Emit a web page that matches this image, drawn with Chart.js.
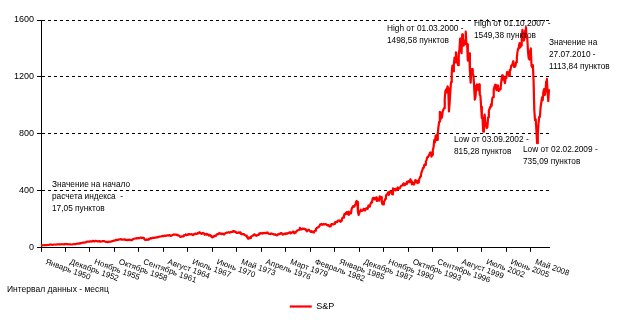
<!DOCTYPE html>
<html>
<head>
<meta charset="utf-8">
<script src="https://cdn.jsdelivr.net/npm/chart.js@4.4.0/dist/chart.umd.min.js"></script>
<style>
  html, body { margin: 0; padding: 0; background: #ffffff; }
  canvas { display: block; }
</style>
</head>
<body>
<canvas id="chart" width="624" height="323"></canvas>
<script>
// S&P 500 monthly closing values, January 1950 – July 2010
const monthNames = ['Январь', 'Февраль', 'Март', 'Апрель', 'Май', 'Июнь',
                    'Июль', 'Август', 'Сентябрь', 'Октябрь', 'Ноябрь', 'Декабрь'];
const firstYear = 1950;
const labelStep = 35;          // one axis label every 35 months
const yTickValues = [0, 400, 800, 1200, 1600];
const seriesName = 'S&P';
const axisCaption = 'Интервал данных - месяц';

const sp500 = [
  17.05, 17.22, 17.29, 17.96, 18.78, 17.69, 17.84, 18.42, 19.45, 19.53, 19.51, 20.41,
  21.66, 21.80, 21.40, 22.43, 21.52, 20.96, 22.40, 23.28, 23.26, 22.94, 22.88, 23.77,
  24.14, 23.26, 24.37, 23.32, 23.86, 24.96, 25.40, 25.03, 24.54, 24.52, 25.66, 26.57,
  26.38, 25.90, 25.29, 24.62, 24.54, 24.14, 24.75, 23.32, 23.35, 24.54, 24.76, 24.81,
  26.08, 26.15, 26.94, 28.26, 29.19, 29.21, 30.88, 29.83, 32.31, 31.68, 34.24, 35.98,
  36.63, 36.76, 36.58, 37.96, 37.91, 41.03, 43.52, 43.18, 43.67, 42.34, 45.51, 45.48,
  43.82, 45.34, 48.48, 48.38, 45.20, 46.97, 49.39, 47.51, 45.35, 45.58, 45.08, 46.67,
  44.72, 43.26, 44.11, 45.74, 47.43, 47.37, 47.91, 45.22, 42.42, 41.06, 41.72, 39.99,
  41.70, 40.84, 42.10, 43.44, 44.09, 45.24, 47.19, 47.75, 50.06, 51.33, 52.48, 55.21,
  55.42, 55.41, 55.44, 57.59, 58.68, 58.47, 60.51, 59.60, 56.88, 57.52, 58.28, 59.89,
  55.61, 56.12, 55.34, 54.37, 55.83, 56.92, 55.51, 56.96, 53.52, 53.39, 55.54, 58.11,
  61.78, 63.44, 65.06, 65.31, 66.56, 64.64, 66.76, 68.07, 66.73, 68.62, 71.32, 71.55,
  68.84, 69.96, 69.55, 65.24, 59.63, 54.75, 58.23, 59.12, 56.27, 56.52, 62.26, 63.10,
  66.20, 64.29, 66.57, 69.80, 70.80, 69.37, 69.13, 72.50, 71.70, 74.01, 73.23, 75.02,
  77.04, 77.80, 78.98, 79.46, 80.37, 81.69, 83.18, 81.83, 84.18, 84.86, 84.42, 84.75,
  87.56, 87.43, 86.16, 89.11, 88.42, 84.12, 85.25, 87.17, 89.96, 92.42, 91.61, 92.43,
  92.88, 91.22, 89.23, 91.06, 86.13, 84.74, 83.60, 77.10, 76.56, 80.20, 80.45, 80.33,
  86.61, 86.78, 90.20, 94.01, 89.08, 90.64, 94.75, 93.64, 96.71, 93.90, 94.00, 96.47,
  92.24, 89.36, 90.20, 97.59, 98.68, 99.58, 97.74, 98.86, 102.67, 103.41, 108.37, 103.86,
  103.01, 98.13, 101.51, 103.69, 103.46, 97.71, 91.83, 95.51, 93.12, 97.24, 93.81, 92.06,
  85.02, 89.50, 89.63, 81.52, 76.55, 72.72, 78.05, 81.52, 84.21, 83.25, 87.20, 92.15,
  95.88, 96.75, 100.31, 103.95, 99.63, 98.70, 95.58, 99.03, 98.34, 94.23, 93.99, 102.09,
  103.94, 106.57, 107.20, 107.67, 109.53, 107.14, 107.39, 111.09, 110.55, 111.58, 116.67, 118.05,
  116.03, 111.68, 111.52, 106.97, 104.95, 104.26, 108.22, 104.25, 108.43, 108.29, 95.96, 97.55,
  96.57, 96.22, 93.98, 90.31, 87.28, 86.00, 79.31, 72.15, 63.54, 73.90, 69.97, 68.56,
  76.98, 81.59, 83.36, 87.30, 91.15, 95.19, 88.75, 86.88, 83.87, 89.04, 91.24, 90.19,
  100.86, 99.71, 102.77, 101.64, 100.18, 104.28, 103.44, 102.91, 105.24, 102.90, 102.10, 107.46,
  102.03, 99.82, 98.42, 98.44, 96.12, 100.48, 98.85, 96.77, 96.53, 92.34, 94.83, 95.10,
  89.25, 87.04, 89.21, 96.83, 97.24, 95.53, 100.68, 103.29, 102.54, 93.15, 94.70, 96.11,
  99.93, 96.28, 101.59, 101.76, 99.08, 102.91, 103.81, 109.32, 109.32, 101.82, 106.16, 107.94,
  114.16, 113.66, 102.09, 106.29, 111.24, 114.24, 121.67, 122.38, 125.46, 127.47, 140.52, 135.76,
  129.55, 131.27, 136.00, 132.81, 132.59, 131.21, 130.92, 122.79, 116.18, 121.89, 126.35, 122.55,
  120.40, 113.11, 111.96, 116.44, 111.88, 109.61, 107.09, 119.51, 120.42, 133.71, 138.54, 140.64,
  145.30, 148.06, 152.96, 164.42, 162.39, 168.11, 162.56, 164.40, 166.07, 163.55, 166.40, 164.93,
  163.41, 157.06, 159.18, 160.05, 150.55, 153.18, 150.66, 166.68, 166.10, 166.09, 163.58, 167.24,
  179.63, 181.18, 180.66, 179.83, 189.55, 191.85, 190.92, 188.63, 182.08, 189.82, 202.17, 211.28,
  211.78, 226.92, 238.90, 235.52, 247.35, 250.84, 236.12, 252.93, 231.32, 243.98, 249.22, 242.17,
  274.08, 284.20, 291.70, 288.36, 290.10, 304.00, 318.66, 329.80, 321.83, 251.79, 230.30, 247.08,
  257.07, 267.82, 258.89, 261.33, 262.16, 273.50, 272.02, 261.52, 271.91, 278.97, 273.70, 277.72,
  297.47, 288.86, 294.87, 309.64, 320.52, 317.98, 346.08, 351.45, 349.15, 340.36, 345.99, 353.40,
  329.08, 331.89, 339.94, 330.80, 361.23, 358.02, 356.15, 322.56, 306.05, 304.00, 322.22, 330.22,
  343.93, 367.07, 375.22, 375.35, 389.83, 371.16, 387.81, 395.43, 387.86, 392.46, 375.22, 417.09,
  408.79, 412.70, 403.69, 414.95, 415.35, 408.14, 424.21, 414.03, 417.80, 418.68, 431.35, 435.71,
  438.78, 443.38, 451.67, 440.19, 450.19, 450.53, 448.13, 463.56, 458.93, 467.83, 461.79, 466.45,
  481.61, 467.14, 445.77, 450.91, 456.50, 444.27, 458.26, 475.49, 462.69, 472.35, 453.69, 459.27,
  470.42, 487.39, 500.71, 514.71, 533.40, 544.75, 562.06, 561.88, 584.41, 581.50, 605.37, 615.93,
  636.02, 640.43, 645.50, 654.17, 669.12, 670.63, 639.95, 651.99, 687.31, 705.27, 757.02, 740.74,
  786.16, 790.82, 757.12, 801.34, 848.28, 885.14, 954.29, 899.47, 947.28, 914.62, 955.40, 970.43,
  980.28, 1049.34, 1101.75, 1111.75, 1090.82, 1133.84, 1120.67, 957.28, 1017.01, 1098.67, 1163.63, 1229.23,
  1279.64, 1238.33, 1286.37, 1335.18, 1301.84, 1372.71, 1328.72, 1320.41, 1282.71, 1362.93, 1388.91, 1469.25,
  1394.46, 1366.42, 1498.58, 1452.43, 1420.60, 1454.60, 1430.83, 1517.68, 1436.51, 1429.40, 1314.95, 1320.28,
  1366.01, 1239.94, 1160.33, 1249.46, 1255.82, 1224.42, 1211.23, 1133.58, 1040.94, 1059.78, 1139.45, 1148.08,
  1130.20, 1106.73, 1147.39, 1076.92, 1067.14, 989.82, 911.62, 916.07, 815.28, 885.76, 936.31, 879.82,
  855.70, 841.15, 848.18, 916.92, 963.59, 974.50, 990.31, 1008.01, 995.97, 1050.71, 1058.20, 1111.92,
  1131.13, 1144.94, 1126.21, 1107.30, 1120.68, 1140.84, 1101.72, 1104.24, 1114.58, 1130.20, 1173.82, 1211.92,
  1181.27, 1203.60, 1180.59, 1156.85, 1191.50, 1191.33, 1234.18, 1220.33, 1228.81, 1207.01, 1249.48, 1248.29,
  1280.08, 1280.66, 1294.87, 1310.61, 1270.09, 1270.20, 1276.66, 1303.82, 1335.85, 1377.94, 1400.63, 1418.30,
  1438.24, 1406.82, 1420.86, 1482.37, 1530.62, 1503.35, 1455.27, 1473.99, 1526.75, 1549.38, 1481.14, 1468.36,
  1378.55, 1330.63, 1322.70, 1385.59, 1400.38, 1280.00, 1267.38, 1282.83, 1166.36, 968.75, 896.24, 903.25,
  825.88, 735.09, 797.87, 872.81, 919.14, 919.32, 987.48, 1020.62, 1057.08, 1036.19, 1095.63, 1115.10,
  1073.87, 1104.49, 1169.43, 1186.69, 1089.41, 1030.71, 1113.84
];

// "Месяц ГГГГ" category for every monthly point
const categories = sp500.map((_, i) =>
  monthNames[i % 12] + ' ' + (firstYear + Math.floor(i / 12)));

// Callout texts placed around the chart
const callouts = [
  { x: 52,  y: 185, lines: ['Значение на начало', 'расчета индекса  -', '17,05 пунктов'] },
  { x: 387, y: 29,  lines: ['High от 01.03.2000 -', '1498,58 пунктов'] },
  { x: 474, y: 24,  lines: ['High от 01.10.2007 -', '1549,38 пунктов'] },
  { x: 549, y: 43,  lines: ['Значение на', '27.07.2010 -', '1113,84 пунктов'] },
  { x: 454, y: 140, lines: ['Low от 03.09.2002 -', '815,28 пунктов'] },
  { x: 523, y: 150, lines: ['Low от 02.02.2009 -', '735,09 пунктов'] }
];

const FONT = '"Liberation Sans", Arial, sans-serif';
const TEXT_SIZE = 8.3;

// Month labels slanted downward to the right, starting at each tick
const slantedMonthLabels = {
  id: 'slantedMonthLabels',
  afterDraw(chart) {
    const xs = chart.scales.x;
    const ctx = chart.ctx;
    ctx.save();
    ctx.font = '8px ' + FONT;
    ctx.fillStyle = '#000000';
    ctx.textAlign = 'left';
    ctx.textBaseline = 'top';
    xs.ticks.forEach(t => {
      const px = xs.getPixelForValue(t.value);
      ctx.save();
      ctx.translate(px + 6, xs.top + 10);
      ctx.rotate(20 * Math.PI / 180);
      ctx.fillText(categories[t.value], 0, 0);
      ctx.restore();
    });
    ctx.restore();
  }
};

const calloutText = {
  id: 'calloutText',
  afterDraw(chart) {
    const ctx = chart.ctx;
    ctx.save();
    ctx.font = TEXT_SIZE + 'px ' + FONT;
    ctx.fillStyle = '#000000';
    ctx.textAlign = 'left';
    ctx.textBaseline = 'middle';
    callouts.forEach(c => {
      c.lines.forEach((line, k) => ctx.fillText(line, c.x, c.y + k * 12));
    });
    ctx.restore();
  }
};

new Chart(document.getElementById('chart'), {
  type: 'line',
  data: {
    labels: categories,
    datasets: [
      {
        label: seriesName,
        data: sp500,
        borderColor: '#ff0000',
        backgroundColor: '#ff0000',
        borderWidth: 2.2,
        pointRadius: 0,
        borderJoinStyle: 'round',
        tension: 0
      },
      {
        label: seriesName + ' core',
        data: sp500,
        borderColor: 'rgba(255,130,0,0.75)',
        borderWidth: 1,
        pointRadius: 0,
        tension: 0
      }
    ]
  },
  options: {
    responsive: false,
    animation: false,
    devicePixelRatio: 1,
    layout: { padding: { left: 7, right: 7, top: 20, bottom: 2 } },
    scales: {
      x: {
        type: 'category',
        ticks: { display: false, autoSkip: false },
        afterBuildTicks: scale => {
          scale.ticks = scale.ticks.filter(t => t.value % labelStep === 0);
        },
        afterFit: scale => { scale.height = 34; },
        grid: { drawOnChartArea: false, drawTicks: true, tickLength: 4, color: '#000000', lineWidth: 1 },
        border: { color: '#000000', width: 1 }
      },
      y: {
        min: 0,
        max: 1600,
        afterBuildTicks: scale => {
          scale.ticks = yTickValues.map(v => ({ value: v }));
        },
        afterFit: scale => { scale.width = 34; },
        ticks: {
          color: '#000000',
          font: { family: FONT, size: 9 },
          padding: 3,
          callback: value => String(value)
        },
        grid: { color: '#000000', lineWidth: 1, tickLength: 4, drawTicks: true },
        border: { color: '#000000', width: 1, dash: [3, 3] }
      },
      // empty right-hand margin reserved for the callouts beside the plot
      margin: {
        type: 'linear',
        position: 'right',
        ticks: { display: false },
        grid: { display: false },
        border: { display: false },
        afterFit: scale => { scale.width = 68; }
      }
    },
    plugins: {
      legend: {
        position: 'bottom',
        weight: 1000,
        labels: {
          color: '#000000',
          font: { family: FONT, size: 9 },
          usePointStyle: true,
          pointStyle: 'line',
          pointStyleWidth: 22,
          padding: 5,
          filter: item => item.datasetIndex === 0
        }
      },
      title: {
        display: true,
        text: axisCaption,
        position: 'bottom',
        align: 'start',
        weight: 500,
        color: '#000000',
        font: { family: FONT, size: 8.5, weight: 'normal' },
        padding: { top: 3, bottom: 2 }
      },
      tooltip: { enabled: false }
    }
  },
  plugins: [slantedMonthLabels, calloutText]
});
</script>
</body>
</html>
